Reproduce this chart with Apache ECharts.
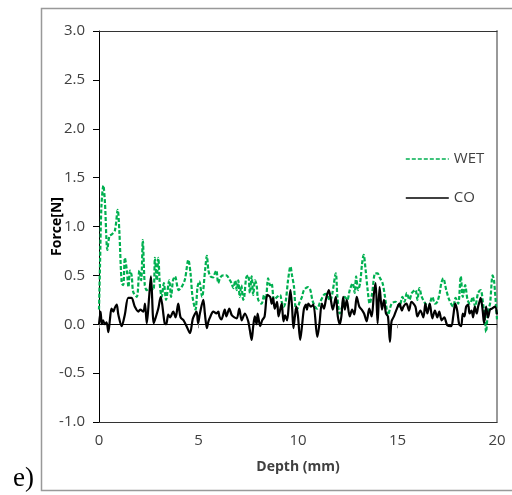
<!DOCTYPE html>
<html>
<head>
<meta charset="utf-8">
<script src="https://cdn.jsdelivr.net/npm/echarts@6/dist/echarts.min.js"></script>
<style>html,body{margin:0;padding:0;background:#fff;}#c{width:512px;height:495px;}</style>
</head>
<body>
<div id="c"></div>
<script>
const xTicks = [0, 5, 10, 15, 20];
const yTicks = [-1.0, -0.5, 0.0, 0.5, 1.0, 1.5, 2.0, 2.5, 3.0];
const seriesNames = ['WET', 'CO'];
const wetDepth = [0.00,0.05,0.12,0.22,0.30,0.42,0.52,0.65,0.80,0.94,1.02,1.14,1.22,1.30,1.40,1.48,1.56,1.64,1.72,1.90,2.03,2.12,2.20,2.30,2.40,2.55,2.73,2.81,2.90,2.98,3.06,3.15,3.26,3.37,3.53,3.62,3.72,3.82,4.00,4.15,4.32,4.49,4.60,4.70,4.85,4.95,5.04,5.18,5.33,5.42,5.50,5.60,5.74,5.82,5.90,5.99,6.10,6.25,6.40,6.55,6.66,6.75,6.85,6.92,7.00,7.07,7.15,7.25,7.30,7.40,7.50,7.58,7.67,7.75,7.84,7.92,8.00,8.17,8.30,8.38,8.50,8.60,8.67,8.80,8.95,9.10,9.18,9.28,9.38,9.50,9.62,9.70,9.80,9.90,9.98,10.07,10.20,10.30,10.50,10.62,10.72,10.85,10.97,11.10,11.30,11.42,11.55,11.62,11.72,11.90,11.98,12.10,12.22,12.35,12.48,12.60,12.75,12.85,12.92,13.02,13.12,13.22,13.30,13.40,13.50,13.60,13.72,13.88,14.00,14.10,14.25,14.35,14.42,14.52,14.70,14.90,15.05,15.10,15.25,15.35,15.47,15.60,15.72,15.90,16.00,16.10,16.22,16.40,16.55,16.75,16.88,17.00,17.12,17.20,17.30,17.45,17.60,17.80,17.92,18.05,18.18,18.28,18.40,18.52,18.65,18.78,18.90,19.05,19.18,19.30,19.40,19.45,19.55,19.65,19.78,19.85,20.00];
const wetForce = [0.15,0.60,1.20,1.42,1.24,0.76,0.90,0.92,0.96,1.17,0.96,0.42,0.40,0.68,0.55,0.38,0.55,0.50,0.33,0.28,0.55,0.45,0.86,0.40,0.35,0.37,0.35,0.68,0.45,0.68,0.40,0.28,0.42,0.25,0.45,0.28,0.45,0.49,0.35,0.38,0.46,0.66,0.52,0.28,0.15,0.38,0.44,0.28,0.55,0.70,0.55,0.49,0.48,0.52,0.55,0.42,0.48,0.50,0.50,0.46,0.42,0.37,0.45,0.35,0.45,0.28,0.40,0.25,0.28,0.48,0.50,0.32,0.49,0.30,0.45,0.40,0.25,0.21,0.30,0.25,0.47,0.40,0.42,0.25,0.28,0.30,0.23,0.18,0.23,0.45,0.59,0.50,0.38,0.15,0.16,0.22,0.28,0.35,0.38,0.35,0.25,0.18,0.16,0.22,0.30,0.31,0.26,0.24,0.31,0.52,0.28,0.11,0.18,0.28,0.25,0.35,0.42,0.32,0.49,0.35,0.42,0.62,0.71,0.55,0.35,0.21,0.31,0.52,0.52,0.48,0.42,0.31,0.21,0.09,0.21,0.23,0.20,0.18,0.28,0.23,0.32,0.25,0.32,0.35,0.25,0.37,0.28,0.21,0.18,0.28,0.21,0.23,0.32,0.42,0.47,0.35,0.25,0.18,0.27,0.21,0.49,0.28,0.40,0.25,0.21,0.28,0.18,0.32,0.35,0.21,0.04,-0.08,0.14,0.21,0.50,0.45,0.05];
const coDepth = [0.00,0.08,0.14,0.20,0.30,0.38,0.47,0.55,0.63,0.72,0.80,0.89,0.97,1.14,1.30,1.47,1.63,1.80,1.98,2.07,2.23,2.31,2.40,2.52,2.61,2.75,2.85,2.98,3.10,3.30,3.38,3.48,3.57,3.73,3.85,3.98,4.10,4.25,4.40,4.57,4.72,4.90,4.98,5.07,5.24,5.32,5.42,5.50,5.60,5.74,5.90,6.00,6.05,6.15,6.32,6.40,6.55,6.68,6.92,7.05,7.17,7.33,7.50,7.58,7.67,7.75,7.83,7.92,7.97,8.10,8.20,8.32,8.46,8.60,8.68,8.75,8.83,8.95,9.02,9.18,9.27,9.35,9.45,9.55,9.62,9.70,9.77,9.85,9.92,10.00,10.11,10.20,10.30,10.40,10.45,10.52,10.65,10.77,10.97,11.08,11.20,11.30,11.40,11.46,11.55,11.65,11.75,11.90,12.00,12.10,12.18,12.27,12.35,12.45,12.60,12.72,12.83,12.95,13.08,13.20,13.32,13.45,13.58,13.70,13.82,13.90,14.00,14.10,14.22,14.32,14.42,14.52,14.62,14.70,14.82,14.95,15.10,15.22,15.30,15.45,15.58,15.70,15.90,16.00,16.15,16.30,16.40,16.50,16.62,16.75,16.88,17.00,17.10,17.22,17.35,17.50,17.70,17.80,17.90,18.00,18.10,18.20,18.28,18.36,18.45,18.55,18.62,18.72,18.80,18.88,18.98,19.05,19.12,19.18,19.28,19.35,19.45,19.55,19.65,19.75,19.90,20.00];
const coForce = [0.00,0.13,0.00,0.04,0.00,0.02,-0.08,0.05,0.16,0.13,0.17,0.20,0.10,-0.02,0.10,0.27,0.27,0.18,0.13,0.15,0.13,0.21,0.01,0.28,0.49,0.01,0.07,0.16,0.28,0.01,0.00,0.10,0.07,0.13,0.07,0.21,0.07,0.04,-0.02,-0.09,0.06,0.13,0.01,0.11,0.25,0.11,-0.04,0.03,0.08,0.13,0.11,0.13,0.08,0.05,0.15,0.08,0.16,0.09,0.06,0.16,0.04,0.11,0.03,-0.06,-0.16,-0.02,0.08,0.00,0.11,-0.02,0.04,0.08,0.30,0.28,0.21,0.27,0.16,0.23,0.08,0.21,0.03,0.09,0.04,0.23,0.35,0.18,-0.04,0.09,0.18,0.08,-0.16,-0.02,0.16,0.20,0.15,0.21,0.18,0.20,-0.13,0.01,0.21,0.16,0.25,0.30,0.35,0.25,0.15,0.28,0.08,0.00,0.08,0.28,0.15,0.25,0.08,0.15,0.10,0.28,0.18,0.15,0.11,0.03,0.16,0.08,0.32,0.42,0.01,0.38,0.15,0.25,0.11,0.08,-0.18,0.03,0.08,0.15,0.21,0.14,0.18,0.21,0.14,0.23,0.18,0.08,0.14,0.07,0.21,0.11,0.21,0.06,0.14,0.07,0.13,0.04,0.07,-0.01,-0.02,0.08,0.21,0.14,0.00,-0.02,0.11,0.08,0.18,0.20,0.11,0.14,0.07,0.18,0.11,0.18,0.23,0.27,0.14,0.01,0.18,0.07,0.15,0.16,0.18,0.10];

const pairs = (xs, ys) => xs.map((x, i) => [x, ys[i]]);
const FONT = 'Open Sans';
const LABEL_COLOR = '#404040';

const chart = echarts.init(document.getElementById('c'), null, {renderer: 'canvas'});
const common = {type: 'value', min: xTicks[0], max: xTicks[xTicks.length - 1], interval: xTicks[1] - xTicks[0], splitLine: {show: false}};
const commonY = {type: 'value', min: yTicks[0], max: yTicks[yTicks.length - 1], interval: yTicks[1] - yTicks[0], splitLine: {show: false}};
chart.setOption({
  backgroundColor: '#ffffff',
  animation: false,
  textStyle: {fontFamily: FONT},
  grid: {left: 99, right: 15, top: 31, bottom: 73, containLabel: false},
  legend: {
    orient: 'vertical', left: 400, top: 144,
    itemWidth: 43, itemHeight: 14, itemGap: 19,
    data: seriesNames,
    itemStyle: {color: 'rgba(0,0,0,0)', borderColor: 'rgba(0,0,0,0)', borderWidth: 0, opacity: 0},
    lineStyle: {width: 1.6},
    textStyle: {fontFamily: FONT, fontSize: 15, color: LABEL_COLOR, lineHeight: 20}
  },
  xAxis: [
    Object.assign({}, common, {
      position: 'bottom',
      name: 'Depth (mm)', nameLocation: 'middle', nameGap: 38, nameMoveOverlap: false,
      nameTextStyle: {fontFamily: FONT, fontSize: 14, fontWeight: 'bold', color: LABEL_COLOR},
      axisLine: {show: true, onZero: false, lineStyle: {color: '#333', width: 1}},
      axisTick: {show: false},
      axisLabel: {margin: 11, fontFamily: FONT, fontSize: 15, color: LABEL_COLOR}
    }),
    Object.assign({}, common, {
      position: 'bottom',
      axisLine: {show: true, onZero: true, lineStyle: {color: '#000', width: 1}},
      axisTick: {show: true, inside: false, length: 4, lineStyle: {color: '#888'}},
      axisLabel: {show: false}
    }),
    Object.assign({}, common, {
      position: 'top',
      axisLine: {show: true, onZero: false, lineStyle: {color: '#333', width: 1}},
      axisTick: {show: false},
      axisLabel: {show: false}
    })
  ],
  yAxis: [
    Object.assign({}, commonY, {
      position: 'left',
      name: 'Force[N]', nameLocation: 'middle', nameGap: 35, nameRotate: 90, nameMoveOverlap: false,
      nameTextStyle: {fontFamily: FONT, fontSize: 14, fontWeight: 'bold', color: '#000'},
      axisLine: {show: true, onZero: false, lineStyle: {color: '#000', width: 1}},
      axisTick: {show: true, inside: false, length: 6, lineStyle: {color: '#000'}},
      axisLabel: {margin: 14, fontFamily: FONT, fontSize: 15, color: LABEL_COLOR,
        formatter: v => v.toFixed(1)}
    }),
    Object.assign({}, commonY, {
      position: 'right',
      axisLine: {show: true, onZero: false, lineStyle: {color: '#999', width: 2}},
      axisTick: {show: false},
      axisLabel: {show: false}
    })
  ],
  series: [
    {
      name: seriesNames[0], type: 'line', xAxisIndex: 0, yAxisIndex: 0,
      data: pairs(wetDepth, wetForce),
      symbol: 'none', smooth: 0.3,
      lineStyle: {color: '#00B050', width: 2.2, type: [4, 2]},
      itemStyle: {color: '#00B050'}, z: 3
    },
    {
      name: seriesNames[1], type: 'line', xAxisIndex: 0, yAxisIndex: 0,
      data: pairs(coDepth, coForce),
      symbol: 'none', smooth: 0.3,
      lineStyle: {color: '#000000', width: 2.2},
      itemStyle: {color: '#000000'}, z: 4
    }
  ],
  graphic: [
    {type: 'rect', left: 39, top: 6, silent: true, z: -1,
      shape: {x: 0, y: 0, width: 520, height: 482},
      style: {fill: 'none', stroke: '#999', lineWidth: 1.5}},
    {type: 'text', left: 13, top: 465, silent: true,
      style: {text: 'e)', fontFamily: 'Liberation Serif', fontSize: 27, fill: '#000'}}
  ]
});
</script>
</body>
</html>
